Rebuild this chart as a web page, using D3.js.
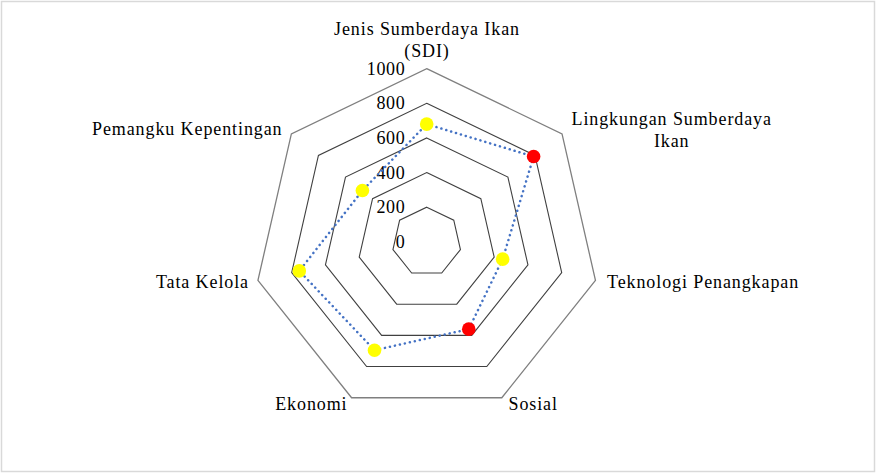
<!DOCTYPE html>
<html>
<head>
<meta charset="utf-8">
<script src="https://cdn.jsdelivr.net/npm/d3@7"></script>
<style>
html,body{margin:0;padding:0;background:#fff;}
svg{display:block;}
text{font-family:"Liberation Serif","Times New Roman",serif;fill:#000;}
</style>
</head>
<body>
<svg id="chart" width="877" height="474"></svg>
<script>
const categories = [
  ["Jenis Sumberdaya Ikan", "(SDI)"],
  ["Lingkungan Sumberdaya", "Ikan"],
  ["Teknologi Penangkapan"],
  ["Sosial"],
  ["Ekonomi"],
  ["Tata Kelola"],
  ["Pemangku Kepentingan"]
];
const values = [680, 790, 450, 560, 695, 755, 475];
const markerColors = ["#FFFF00", "#FF0000", "#FFFF00", "#FF0000", "#FFFF00", "#FFFF00", "#FFFF00"];
const ticks = [0, 200, 400, 600, 800, 1000];

const svg = d3.select("#chart");
svg.append("rect").attr("x", 1.5).attr("y", 1.5).attr("width", 873).attr("height", 470)
  .attr("fill", "#fff").attr("stroke", "#d9d9d9").attr("stroke-width", 1.5);

const cx = 426.7, cy = 241.8, R = 173.1;
const n = categories.length;
const r = d3.scaleLinear().domain([0, 1000]).range([0, R]);
const angle = i => i * 2 * Math.PI / n;
const pt = (i, v) => [cx + r(v) * Math.sin(angle(i)), cy - r(v) * Math.cos(angle(i))];

const g = svg.append("g");
const ringLine = d3.line();
ticks.filter(t => t > 0).forEach(t => {
  const pts = d3.range(n).map(i => pt(i, t));
  g.append("path").attr("d", ringLine(pts) + "Z")
    .attr("fill", "none")
    .attr("stroke", t === 1000 ? "#7f7f7f" : "#404040")
    .attr("stroke-width", t === 1000 ? 1.3 : 1.1);
});

// tick labels
g.selectAll("text.tick").data(ticks).enter().append("text")
  .attr("class", "tick")
  .attr("x", 405.5).attr("y", d => cy - r(d) + 6)
  .attr("text-anchor", "end").attr("font-size", 18).attr("letter-spacing", 0.7)
  .text(d => d);

// series
const seriesPts = values.map((v, i) => pt(i, v));
g.append("path").attr("d", ringLine(seriesPts) + "Z")
  .attr("fill", "none").attr("stroke", "#4472C4").attr("stroke-width", 2.5)
  .attr("stroke-dasharray", "0.1 5").attr("stroke-linecap", "round");
g.selectAll("circle.m").data(values).enter().append("circle")
  .attr("class", "m")
  .attr("cx", (d, i) => pt(i, d)[0]).attr("cy", (d, i) => pt(i, d)[1])
  .attr("r", 6.8).attr("fill", (d, i) => markerColors[i]);

// category labels
const labelPos = [
  {x: 427, y: 35, anchor: "middle"},
  {x: 671.7, y: 125, anchor: "middle"},
  {x: 607, y: 288, anchor: "start"},
  {x: 508.5, y: 410, anchor: "start"},
  {x: 347.5, y: 410, anchor: "end"},
  {x: 249, y: 288, anchor: "end"},
  {x: 282.5, y: 135, anchor: "end"}
];
categories.forEach((lines, i) => {
  const p = labelPos[i];
  const t = g.append("text").attr("x", p.x).attr("y", p.y)
    .attr("text-anchor", p.anchor).attr("font-size", 18).attr("letter-spacing", 0.9);
  lines.forEach((l, k) => {
    t.append("tspan").attr("x", p.x).attr("dy", k === 0 ? 0 : 21.5).text(l);
  });
});
</script>
</body>
</html>
